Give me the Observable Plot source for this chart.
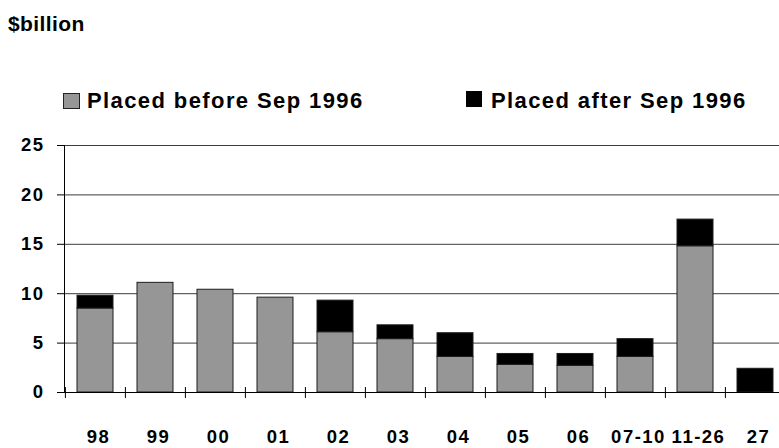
<!DOCTYPE html>
<html>
<head>
<meta charset="utf-8">
<script src="https://cdn.jsdelivr.net/npm/d3@7"></script>
<script src="https://cdn.jsdelivr.net/npm/@observablehq/plot@0.6"></script>
<style>
  html, body { margin: 0; padding: 0; background: #fff; overflow: hidden; }
  body { font-family: "Liberation Sans", Arial, Helvetica, sans-serif; font-weight: bold; color: #000; }
  #wrap { position: relative; width: 779px; height: 448px; }
  #header { position: relative; width: 779px; height: 130px; }
  .txt { position: absolute; white-space: nowrap; line-height: 1; }
  .sw { position: absolute; box-sizing: border-box; }
  #chart svg { display: block; }
</style>
</head>
<body>
<div id="wrap">
  <div id="header">
    <div class="txt" id="unit" style="left:8px; top:13px; font-size:21px; letter-spacing:0.4px;"></div>
    <div class="sw" style="left:63px; top:93px; width:17px; height:16px; background:#969696; border:1.5px solid #222;"></div>
    <div class="txt" id="leg0" style="left:87px; top:90px; font-size:22px; letter-spacing:1.4px;"></div>
    <div class="sw" style="left:466px; top:91px; width:16px; height:16px; background:#000;"></div>
    <div class="txt" id="leg1" style="left:491px; top:90px; font-size:22px; letter-spacing:1.4px;"></div>
  </div>
  <div id="chart"></div>
</div>
<script>
// ---- data ----
const unitLabel = "$billion";
const seriesNames = ["Placed before Sep 1996", "Placed after Sep 1996"];
const categories = ["98", "99", "00", "01", "02", "03", "04", "05", "06", "07-10", "11-26", "27"];
const before = [8.5, 11.1, 10.4, 9.6, 6.1, 5.4, 3.6, 2.8, 2.7, 3.6, 14.8, 0];
const after  = [1.3, 0, 0, 0, 3.2, 1.4, 2.4, 1.1, 1.2, 1.8, 2.7, 2.4];
const yTicks = [0, 5, 10, 15, 20, 25];

document.getElementById("unit").textContent = unitLabel;
document.getElementById("leg0").textContent = seriesNames[0];
document.getElementById("leg1").textContent = seriesNames[1];

const rows = [];
categories.forEach((c, i) => {
  rows.push({cat: c, series: seriesNames[0], value: before[i]});
  rows.push({cat: c, series: seriesNames[1], value: after[i]});
});

// ---- layout ----
const W = 779, H = 318;
const mLeft = 64, step = 60.2;
const mRight = W - (mLeft + categories.length * step);

const chart = Plot.plot({
  width: W,
  height: H,
  marginLeft: mLeft,
  marginRight: mRight,
  marginTop: 15,
  marginBottom: 56,
  style: {
    fontFamily: "'Liberation Sans', Arial, sans-serif",
    fontSize: "18.5px",
    fontWeight: "bold",
    letterSpacing: "1.5px",
    color: "#000",
    background: "#fff",
    overflow: "hidden"
  },
  x: {domain: categories, paddingInner: 0.4, paddingOuter: 0.2, axis: null},
  y: {domain: [0, 25], axis: null},
  color: {domain: seriesNames, range: ["#969696", "#000000"]},
  marks: [
    Plot.ruleY(yTicks.filter(d => d > 0), {stroke: "#3c3c3c", strokeWidth: 1}),
    Plot.barY(rows, Plot.stackY({x: "cat", y: "value", fill: "series", stroke: "#1e1e1e", strokeWidth: 1})),
    Plot.frame({anchor: "left", stroke: "#000"}),
    Plot.ruleY([0], {stroke: "#000", strokeWidth: 1}),
    Plot.axisY({ticks: yTicks, tickSize: 7, tickPadding: 13, label: null, tickFormat: d => String(d), stroke: "#000"}),
    Plot.axisX({tickSize: 0, tickPadding: 37, label: null, dx: 3}),
    Plot.ruleX(categories, {x: d => d, y1: () => 0, y2: () => 0, insetTop: -5, insetBottom: -6, dx: -step / 2, stroke: "#000"})
  ]
});
document.getElementById("chart").appendChild(chart);
</script>
</body>
</html>
